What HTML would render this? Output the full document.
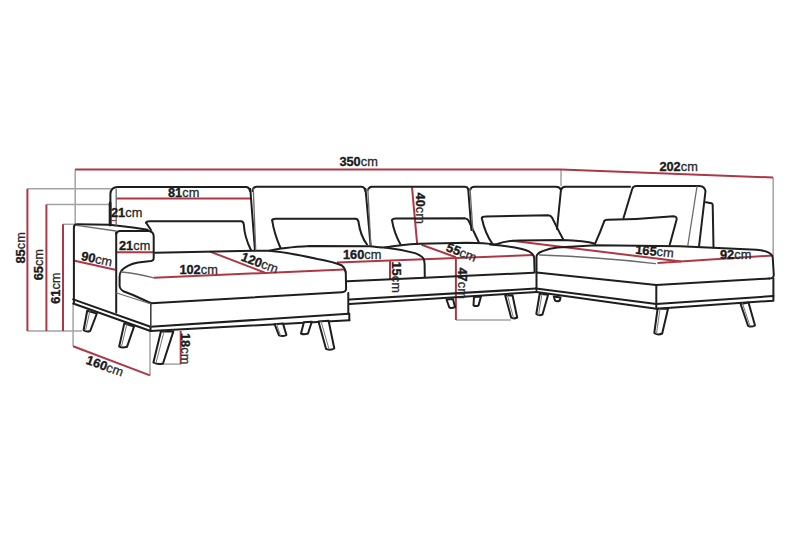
<!DOCTYPE html>
<html><head><meta charset="utf-8">
<style>
html,body{margin:0;padding:0;background:#fff;}
body{width:800px;height:533px;overflow:hidden;}
svg{display:block;}
.d{fill:none;stroke:#1e1e1e;stroke-width:2;stroke-linecap:round;stroke-linejoin:round;}
.t{fill:none;stroke:#6a6a6a;stroke-width:1.3;stroke-linecap:round;}
.r{fill:none;stroke:#ad3844;stroke-width:2;}
.g{fill:none;stroke:#a3a3a3;stroke-width:1.5;}
.leg{fill:#fff;stroke:#1e1e1e;stroke-width:2;stroke-linejoin:round;}
text{font-family:"Liberation Sans",sans-serif;font-size:12.8px;fill:#1a1a1a;stroke:#1a1a1a;stroke-width:0.35px;}
text .n{font-weight:bold;}
text .c{fill:#2a2a2a;stroke:#2a2a2a;stroke-width:0.3px;}
</style></head><body>
<svg width="800" height="533" viewBox="0 0 800 533">
<!-- gray dimension helpers -->
<g class="g">
<path d="M75.2 169.5V224.5"/>
<path d="M561 169.5V186"/>
<path d="M773.2 177.5V256"/>
<path d="M27.4 188.8H111"/>
<path d="M46.4 204.5H110"/>
<path d="M63 224.3H75"/>
<path d="M27.4 331H82"/>
<path d="M73.1 304V346.3"/>
<path d="M150 330.5V375.4"/>
<path d="M162 364.1H181"/>
<path d="M456 320H511"/>
</g>
<!-- red dimension lines -->
<g class="r">
<path d="M75.2 169.4H561"/>
<path d="M561 169.4L773 177.5"/>
<path d="M27.4 188.8V331"/>
<path d="M46.4 204.5V331"/>
<path d="M63 224.3V331"/>
<path d="M116.3 198.6H250.5"/>
<path d="M111.5 220.5H117" style="stroke-width:1.3"/>
<path d="M116.5 252.3H154"/>
<path d="M73.5 260.6L115.2 269.8"/>
<path d="M153.9 277.8L344 269.5"/>
<path d="M210 251.6L264.5 272.5"/>
<path d="M73.1 346.3L150 375.4"/>
<path d="M180.7 331V364.1"/>
<path d="M337 262.5L533.5 255"/>
<path d="M390 260V280"/>
<path d="M412 187.2L417.2 244.5"/>
<path d="M421.5 244.8L455.9 257.2"/>
<path d="M455.9 257.2V320"/>
<path d="M512 240.7L681 261.5"/>
<path d="M657.5 263L772.5 255.5"/>
</g>
<!-- sofa outline -->
<g class="d">
<!-- left back piece -->
<path d="M110.4 225V194Q110.8 186.9 117.8 186.9H246.5Q249.5 187.2 250 191"/>
<path d="M110.1 203V225" style="stroke-width:2.8"/>
<!-- back seams -->
<path d="M250.3 189L255 250.5"/>
<path d="M252.6 191Q253 187 256.5 186.8H361.5Q365 187 365.3 191"/>
<path d="M365.5 189L370.6 245.5"/>
<path d="M367.8 190Q369 186.8 372 186.8H465Q467.5 187 468.2 189"/>
<path d="M468.2 189L471.4 230"/>
<path d="M470.1 190Q471 186.8 474.5 186.8H556Q560 187 561 190"/>
<path d="M561 190Q562 186.8 565 186.8H630"/>
<path d="M561 189.5L557 229"/>
<!-- right tilted cushion -->
<path d="M623.5 218L632.2 189Q633 186 636.5 186H699.5Q704.5 186.3 705.5 191L699 246.5"/>
<path d="M705.8 202.2L711.5 203.3Q712.6 203.6 712.7 205L713.5 247.5"/>
<!-- pillows -->
<path d="M146.1 222.7Q146.5 221.3 149.5 221.3H241Q243.6 221.5 243.8 224.5Q244.5 237 251 250.3"/>
<path d="M146.1 222.7L151 230"/>
<path d="M272.2 220.3Q272.5 218.7 276 218.7H355.5Q358.2 218.9 358.5 222Q360.5 236 367 244.5"/>
<path d="M272.2 220.3Q274 233 280.5 248"/>
<path d="M392 220.2Q392.4 218.6 396 218.5L464.5 218.2Q467.5 218.5 468.5 220.5L478.7 242"/>
<path d="M392 220.2Q394 233 400.5 244.5"/>
<path d="M481.8 218.2Q482 216.6 485.5 216.6L548 215.2Q550.8 215.3 552 217.5L557 227.6L563.5 240"/>
<path d="M481.8 218.2Q485 233 492.5 244"/>
<path d="M604.3 221.2Q604.5 219.8 607.5 219.7Q640 219.5 673.5 216.3Q677.5 216.5 676.5 220L669.8 244.5"/>
<path d="M604.3 221.2Q600 233 595 243.8"/>
<!-- left arm -->
<path d="M73.9 227Q74.3 224.3 77 224.3L109.4 224.8L133 227.6L147.6 229.8"/>
<path d="M116.2 234Q116.8 231 120 231H148.8Q153.3 231.5 153.7 236V258.5Q153.6 260.6 151 261L138 262.4Q127 264.6 121.5 270.5Q119.6 273 119.6 277V286Q120 289.5 124 291.5L133 295Q145 300.5 151.2 303.2"/>
<path d="M116.2 232.5V312.5"/>
<path d="M73.9 227V303"/>
<!-- plinth left -->
<path d="M73.2 299.4L150.5 326.8L348.5 313.8"/>
<path d="M73.2 303.5L150.5 331L349.5 320.2"/>
<path d="M150.5 326.8V331"/>
<path d="M150.8 303.5V326.8" style="stroke:#444;stroke-width:1.6"/>
<!-- chaise left cushion -->
<path d="M155 252.8L253 250.8L269.5 250.8Q288 252.5 317.5 259Q334 262 342 265.5Q345.5 268.5 345.8 273L346.1 289Q345.8 292 342 292.2L151.2 303.2"/>
<path d="M348.3 293V313.8M349.3 313.8V320.2"/>
<!-- middle seat -->
<path d="M269.5 250.8Q282 247.5 310 246L370 246.3Q380 247.5 385 247.5Q400 244.6 420 243.7L467 242.7Q485 243 496 244.5"/>
<path d="M385 247.5Q400 249.3 415 253.1Q421.5 255.5 423.5 258.5Q424.5 261 424.6 264L424.8 277.3"/>
<path d="M347.3 281.3L424.8 277.8L533.5 272.7"/>
<path d="M349.5 299.6L535.8 288.6"/>
<path d="M349.5 304.1L536.9 292"/>
<path d="M490 244.5Q520 247 529 251.3Q533.8 254 534.2 258L534.6 272.5"/>
<!-- corner/right chaise -->
<path d="M496 244.5Q505 240.5 520 240.4L562 240Q585 240.5 595 243.8"/>
<path d="M536.5 290V256.5Q537 253 542.5 251.2Q550 248 557.5 247.5L596 245.2L680 246.3L756.5 249.7Q771 251 772.7 257L773.8 275Q773.5 278.5 769.3 278.5"/>
<path d="M536.5 272.5L656.3 285.1L769.3 278.5"/>
<path d="M536 288.6L656.3 304.1L773.4 296"/>
<path d="M536.5 292L656.3 308.7L773.4 300.7V278.5"/>
<path d="M656.3 285.1V308.7"/>
</g>
<g class="t">
<path d="M116.2 189.5V225"/>
<path d="M253.3 189L255.7 250"/>
<path d="M367.8 189L370.8 245"/>
<path d="M470.1 189L472.8 230"/>
<path d="M697 186.5L687.8 245.5"/>
<path d="M76.8 225.3L116.1 231"/>
<path d="M121.3 272Q135 273 153.9 277.8"/>
<path d="M116.7 293L151 304"/>
<path d="M539.5 255Q600 257 655.5 263.6"/>
</g>
<!-- legs -->
<g class="leg">
<path d="M87.2 310.8L96.8 313.6L90.2 331Q86.5 332.3 83.6 330.3Z"/>
<path d="M124.3 323.4L134 326.6L127 346.8Q122.5 348.3 119.2 346.5Z"/>
<path d="M160.9 331.6L173.3 331.6L163 363.5Q157.5 365 153.4 362.5Z"/>
<path d="M274.6 324.2L283 323.6L286.4 335Q283 337 279 335.4Z"/>
<path d="M303.9 322.3L311.8 321.7L308 333.5Q304 335 301 333.5Z"/>
<path d="M318.5 321.4L328.6 320.8L334.3 348.5Q330.5 350.8 326 348.8Z"/>
<path d="M446.5 299.5L453 299L455 307Q451.5 308.8 449.3 307.3Z"/>
<path d="M474 297L481 296.5L478.5 305.5Q475 306.8 473.5 305.2Z"/>
<path d="M505.2 295.6L512.5 295.2L517.2 317.5Q514 319.2 511.2 317.7Z"/>
<path d="M539.7 293.7L548.1 294.8L542.5 314.5Q539 316 536.3 314Z"/>
<path d="M553.8 296.5L560.5 297.6L559.8 300.5Q557 302 555 300.5Z"/>
<path d="M657.6 308.7L668 308.7L662.2 333.5Q658 335.5 654.3 333Z"/>
<path d="M740.6 304L748.5 302.5L755 325.5Q751.5 327.5 748 325.8Z"/>
</g>
<g class="t" style="stroke:#777;stroke-width:1">
<path d="M89.8 311.5L85.5 330.5"/>
<path d="M126.8 324.3L121.5 346.5"/>
<path d="M164 331.8L156 363"/>
<path d="M321 321.3L329 349"/>
<path d="M276.5 324L280.5 335.5"/>
<path d="M507.5 295.5L513.5 318"/>
<path d="M742.5 303.5L750 326"/>
<path d="M660 309L656.5 333.5"/>
<path d="M542 294L538.5 315"/>
</g>
<!-- labels -->
<text x="339.4" y="166.1"><tspan class="n">350</tspan><tspan class="c">cm</tspan></text>
<text x="659.4" y="170.5"><tspan class="n">202</tspan><tspan class="c">cm</tspan></text>
<text x="168" y="196.8"><tspan class="n">81</tspan><tspan class="c">cm</tspan></text>
<text x="111" y="217.4"><tspan class="n">21</tspan><tspan class="c">cm</tspan></text>
<text x="119" y="250"><tspan class="n">21</tspan><tspan class="c">cm</tspan></text>
<text x="179.4" y="273.6"><tspan class="n">102</tspan><tspan class="c">cm</tspan></text>
<text x="343" y="258.6"><tspan class="n">160</tspan><tspan class="c">cm</tspan></text>
<text transform="translate(635 253.8) rotate(5.5)"><tspan class="n">165</tspan><tspan class="c">cm</tspan></text>
<text x="720" y="258.8"><tspan class="n">92</tspan><tspan class="c">cm</tspan></text>
<text transform="translate(80.5 260) rotate(12)"><tspan class="n">90</tspan><tspan class="c">cm</tspan></text>
<text transform="translate(240.2 260.3) rotate(20)"><tspan class="n">120</tspan><tspan class="c">cm</tspan></text>
<text transform="translate(445.3 250.8) rotate(21)"><tspan class="n">55</tspan><tspan class="c">cm</tspan></text>
<text transform="translate(85.3 363.6) rotate(20)"><tspan class="n">160</tspan><tspan class="c">cm</tspan></text>
<text transform="translate(25.4 263.5) rotate(-90)"><tspan class="n">85</tspan><tspan class="c">cm</tspan></text>
<text transform="translate(43.2 280.3) rotate(-90)"><tspan class="n">65</tspan><tspan class="c">cm</tspan></text>
<text transform="translate(60 303.8) rotate(-90)"><tspan class="n">61</tspan><tspan class="c">cm</tspan></text>
<text transform="translate(181 333) rotate(90)"><tspan class="n">18</tspan><tspan class="c">cm</tspan></text>
<text transform="translate(391.5 261.5) rotate(90)"><tspan class="n">15</tspan><tspan class="c">cm</tspan></text>
<text transform="translate(416.2 192.6) rotate(90)"><tspan class="n">40</tspan><tspan class="c">cm</tspan></text>
<text transform="translate(458.2 267.5) rotate(90)"><tspan class="n">47</tspan><tspan class="c">cm</tspan></text>
</svg>
</body></html>
